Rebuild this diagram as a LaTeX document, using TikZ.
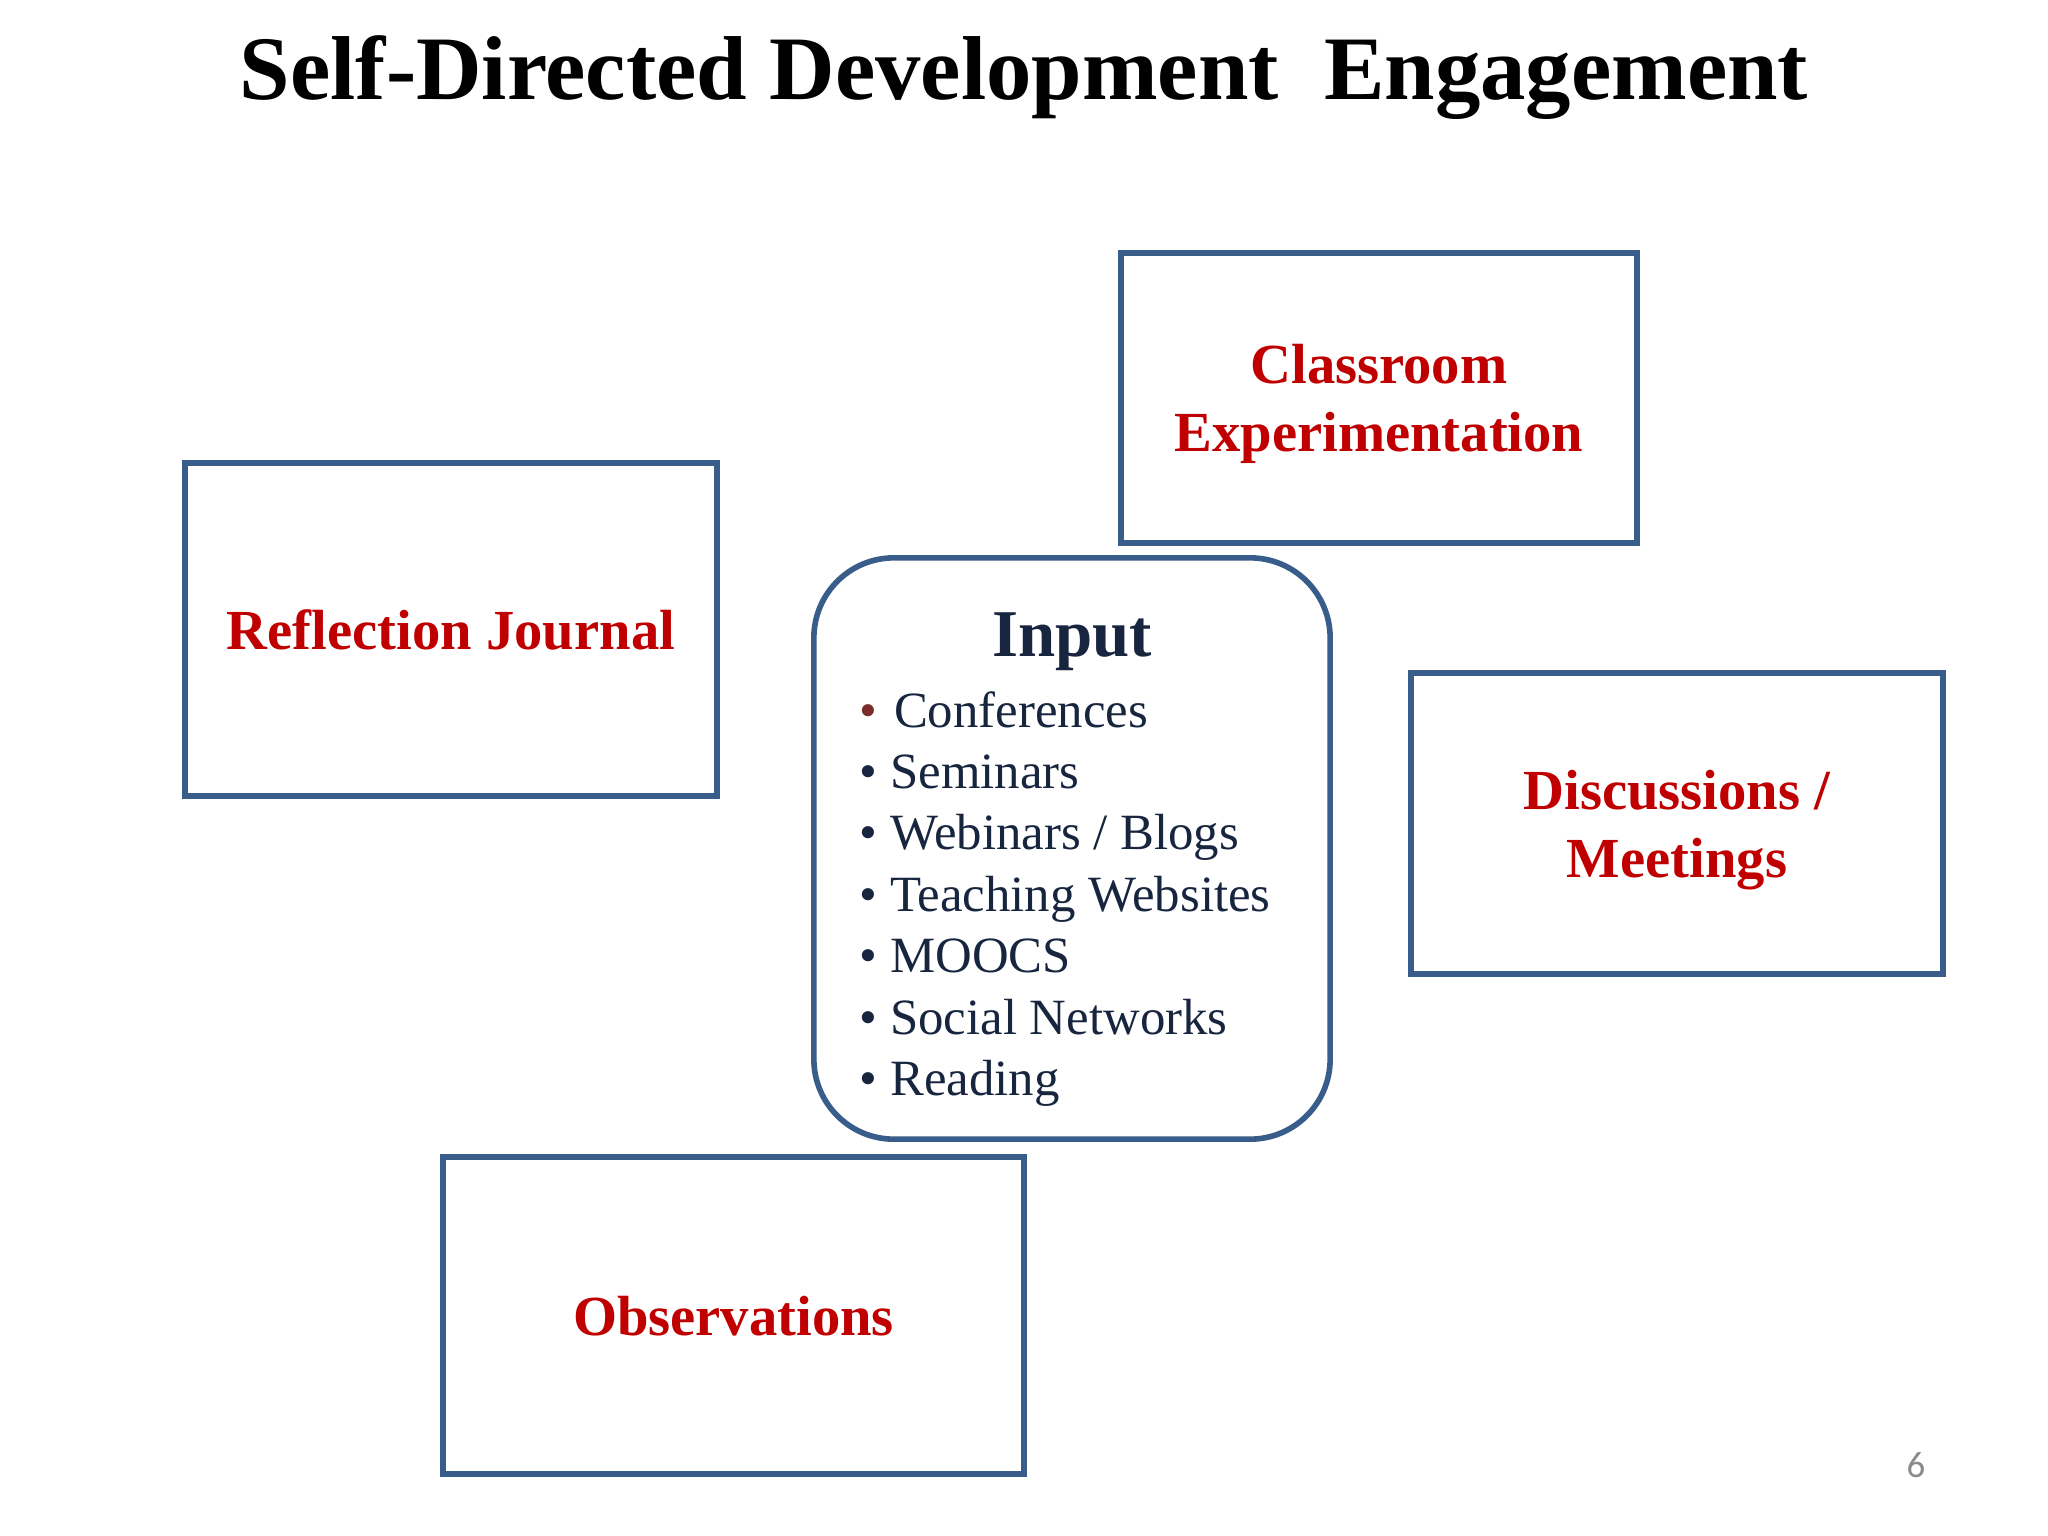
\documentclass[tikz,border=0pt]{standalone}
\usepackage{fontspec}
\setmainfont{Liberation Serif}
\newfontfamily\pagefont{Carlito}
\definecolor{boxblue}{RGB}{56,93,138}
\definecolor{labelred}{RGB}{192,0,0}
\definecolor{listnavy}{HTML}{17253F}
\definecolor{bulletred}{HTML}{7A2E2A}
\definecolor{pagegray}{HTML}{8A8A8A}
\begin{document}
\begin{tikzpicture}[x=0.01cm,y=-0.01cm,
  box/.style={draw=boxblue, line width=1.6pt, fill=white, align=center,
    text=labelred, font=\fontsize{16.1}{19.3}\selectfont\bfseries,
    text depth=0pt, inner sep=0pt},
  inputbox/.style={draw=boxblue, line width=1.6pt, fill=white,
    rounded corners=0.8cm, inner sep=0pt},
  itemtext/.style={anchor=base west, inner sep=0pt, text=listnavy,
    font=\fontsize{14.45}{17}\selectfont},
  headtext/.style={anchor=base, inner sep=0pt, text=listnavy,
    font=\fontsize{19}{22}\selectfont\bfseries},
  titletext/.style={anchor=base, inner sep=0pt, text=black,
    font=\fontsize{25.8}{30}\selectfont\bfseries},
  pagenum/.style={anchor=base, inner sep=0pt, text=pagegray,
    font=\pagefont\fontsize{10.5}{12}\selectfont}]
\useasboundingbox (0,0) rectangle (2048,1536);
\fill[white] (0,0) rectangle (2048,1536);

\node[titletext] (title) at (1024,99) {Self-Directed Development\ \ Engagement};

\node[box, minimum width=5.16cm, minimum height=2.90cm] (classroom) at (1379,398)
  {Classroom\\Experimentation};
\node[box, minimum width=5.32cm, minimum height=3.33cm] (reflection) at (451,629.5)
  {Reflection Journal};
\node[box, minimum width=5.32cm, minimum height=3.01cm] (discussions) at (1677,823.5)
  {Discussions /\\Meetings};
\node[box, minimum width=5.81cm, minimum height=3.17cm] (observations) at (733.5,1315.5)
  {Observations};

\node[inputbox, minimum width=5.16cm, minimum height=5.81cm] (input) at (1072,848.5) {};
\node[headtext] (inputhead) at (1072,656) {Input};
\node[itemtext] (item1) at (859,727) {{\color{bulletred}•}\ \kern1.1pt Conferences};
\foreach \t [count=\i from 2] in {Seminars, Webinars / Blogs, Teaching Websites, MOOCS, Social Networks, Reading}
  \node[itemtext] (item\i) at (859,{727+61.4*(\i-1)}) {•\ \t};

\node[pagenum] (page) at (1916,1477) {6};
\end{tikzpicture}
\end{document}
